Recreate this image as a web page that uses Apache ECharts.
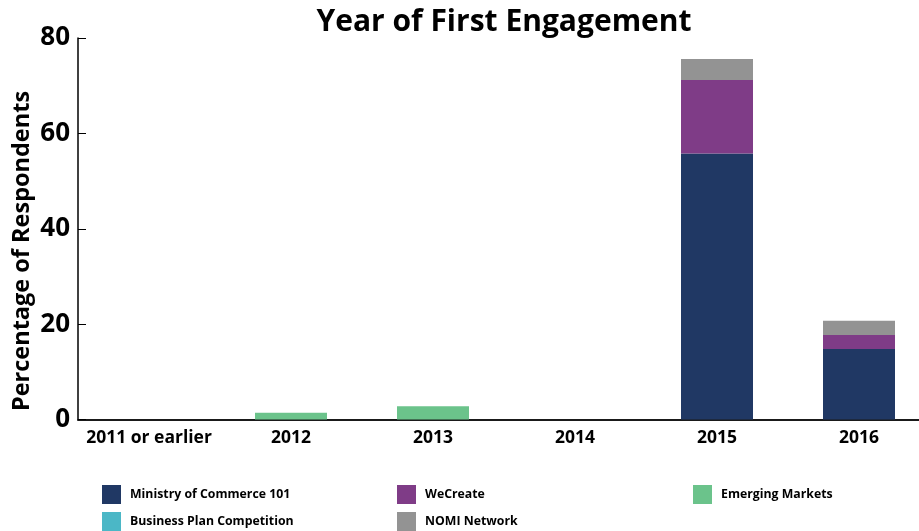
<!DOCTYPE html>
<html>
<head>
<meta charset="utf-8">
<script src="https://cdn.jsdelivr.net/npm/echarts@6/dist/echarts.min.js"></script>
<style>
  html, body { margin: 0; padding: 0; background: #ffffff; }
  #chart { width: 919px; height: 531px; }
</style>
</head>
<body>
<div id="chart"></div>
<script>
// Year of first engagement, share of respondents (%) by programme
const categories = ['2011 or earlier', '2012', '2013', '2014', '2015', '2016'];
const ministryOfCommerce = [0, 0, 0, 0, 55.8, 14.8];
const weCreate = [0, 0, 0, 0, 15.4, 2.9];
const emergingMarkets = [0, 1.4, 2.8, 0, 0, 0];
const businessPlanCompetition = [0, 0, 0, 0, 0, 0];
const nomiNetwork = [0, 0, 0, 0, 4.4, 3.0];
const yTicks = [0, 20, 40, 60, 80];

const FONT = 'Open Sans';
const seriesDefs = [
  { name: 'Ministry of Commerce 101', data: ministryOfCommerce, color: '#203864', pos: [102, 485] },
  { name: 'WeCreate', data: weCreate, color: '#7F3C87', pos: [397, 485] },
  { name: 'Emerging Markets', data: emergingMarkets, color: '#6BC38B', pos: [693, 485] },
  { name: 'Business Plan Competition', data: businessPlanCompetition, color: '#4BB7C6', pos: [102, 512] },
  { name: 'NOMI Network', data: nomiNetwork, color: '#939393', pos: [397, 512] }
];

const chart = echarts.init(document.getElementById('chart'), null, { renderer: 'canvas' });

chart.setOption({
  animation: false,
  backgroundColor: '#ffffff',
  title: {
    text: 'Year of First Engagement',
    left: 499,
    top: 2,
    textAlign: 'center',
    textStyle: { fontFamily: FONT, fontWeight: 'bold', fontSize: 30, color: '#000' }
  },
  graphic: [{
    type: 'text',
    x: 22,
    y: 251,
    rotation: Math.PI / 2,
    style: {
      text: 'Percentage of Respondents',
      fontFamily: FONT, fontWeight: 'bold', fontSize: 23.5, fill: '#000',
      align: 'center', verticalAlign: 'middle'
    }
  }],
  legend: seriesDefs.map(s => ({
    data: [s.name],
    left: s.pos[0],
    top: s.pos[1],
    padding: 0,
    itemWidth: 19,
    itemHeight: 19,
    icon: 'rect',
    selectedMode: false,
    textStyle: { fontFamily: FONT, fontWeight: 'bold', fontSize: 12.3, color: '#000', padding: [0, 0, 0, 4] }
  })),
  grid: { left: 78, top: 38, width: 852, bottom: 111.5, outerBoundsMode: 'none' },
  xAxis: {
    type: 'category',
    data: categories,
    boundaryGap: true,
    axisLine: { lineStyle: { color: '#1a1a1a', width: 2 } },
    axisTick: { show: false },
    axisLabel: {
      interval: 0,
      margin: 10,
      fontFamily: FONT, fontWeight: 'bold', fontSize: 17.5, color: '#000'
    }
  },
  yAxis: {
    type: 'value',
    min: yTicks[0],
    max: yTicks[yTicks.length - 1],
    interval: 20,
    axisLine: { show: true, lineStyle: { color: '#000', width: 1.5 } },
    axisTick: { show: true, inside: true, length: 8, lineStyle: { color: '#000', width: 1 } },
    splitLine: { show: false },
    axisLabel: {
      margin: 8,
      fontFamily: FONT, fontWeight: 'bold', fontSize: 26, color: '#000'
    }
  },
  series: seriesDefs.map(s => ({
    name: s.name,
    type: 'bar',
    stack: 'total',
    barWidth: 72,
    data: s.data,
    itemStyle: { color: s.color },
    emphasis: { disabled: true }
  }))
});
</script>
</body>
</html>
